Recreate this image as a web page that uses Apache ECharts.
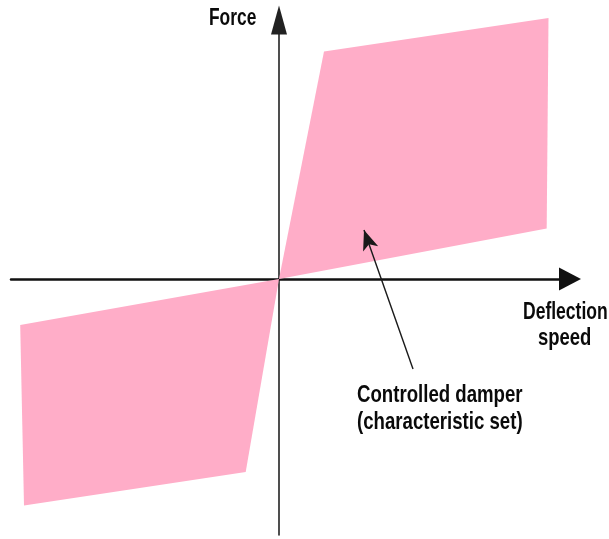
<!DOCTYPE html>
<html><head><meta charset="utf-8">
<script src="https://cdn.jsdelivr.net/npm/echarts@6/dist/echarts.min.js"></script>
<style>html,body{margin:0;padding:0;background:#fff;}#c{width:609px;height:539px;}</style>
</head><body><div id="c"></div>
<script>
// Schematic damper characteristic (arbitrary units, origin at 0,0)
const upperX = [0, 45, 269.5, 267.7];
const upperY = [0, 227.5, 261, 50.5];
const lowerX = [0, -258.8, -255, -33.3];
const lowerY = [0, -46, -226.4, -193];
const polygons = [[upperX, upperY], [lowerX, lowerY]];
const arrowFrom = [134, -90];
const arrowTo = [85, 49];
const xRange = [-268, 291];
const yRange = [-256, 259];
const yAxisName = 'Force';
const xAxisName = ['Deflection', 'speed'];
const noteLines = ['Controlled damper', '(characteristic set)'];

const FONT = "'Liberation Sans', Arial, sans-serif";
function label(text, x, y, size, sx) {
  return {type: 'text', x: x, y: y, scaleX: sx, scaleY: 1,
    style: {text: text, font: 'bold ' + size + 'px ' + FONT, fill: '#0a0a0a',
      align: 'left', verticalAlign: 'middle'}};
}
const chart = echarts.init(document.getElementById('c'), null, {renderer: 'canvas'});
chart.setOption({
  animation: false,
  grid: {left: 11, right: 39, top: 20, bottom: 4},
  xAxis: {
    type: 'value', min: xRange[0], max: xRange[1],
    axisLine: {onZero: true, symbol: ['none', 'triangle'], symbolSize: [23, 22],
      lineStyle: {color: '#111', width: 2.5}},
    axisTick: {show: false}, axisLabel: {show: false}, splitLine: {show: false}
  },
  yAxis: {
    type: 'value', min: yRange[0], max: yRange[1],
    axisLine: {onZero: true, symbol: ['none', 'triangle'], symbolSize: [16, 29],
      lineStyle: {color: '#222', width: 1.6}},
    axisTick: {show: false}, axisLabel: {show: false}, splitLine: {show: false}
  },
  series: [{
    type: 'custom',
    clip: false,
    data: polygons.map((p, i) => i),
    renderItem: function (params, api) {
      const p = polygons[api.value(0)];
      const pts = p[0].map((x, k) => api.coord([x, p[1][k]]));
      return {type: 'polygon', shape: {points: pts}, style: {fill: '#ffadc8'}};
    },
    z: 1,
    markLine: {
      silent: true,
      symbol: ['none', 'arrow'],
      symbolSize: [12, 20],
      label: {show: false},
      lineStyle: {color: '#1a1a1a', width: 1.4, type: 'solid'},
      data: [[{coord: arrowFrom}, {coord: arrowTo}]]
    }
  }],
  graphic: [
    label(yAxisName, 209, 19, 23, 0.755),
    label(xAxisName[0], 523, 312, 24, 0.73),
    label(xAxisName[1], 538, 338, 24, 0.77),
    label(noteLines[0], 357, 395, 24, 0.776),
    label(noteLines[1], 357, 422, 24, 0.776)
  ]
});
</script></body></html>
